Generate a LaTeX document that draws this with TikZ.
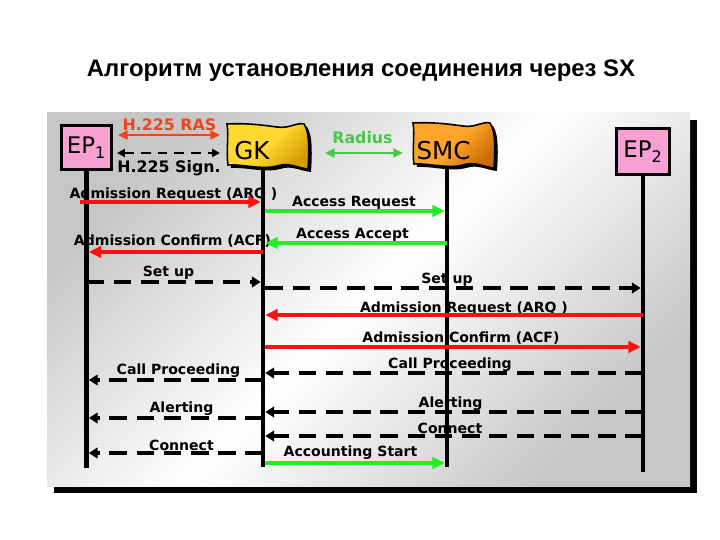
\documentclass[tikz,border=0pt]{standalone}
\usepackage{fontspec}
\setmainfont{DejaVu Sans}
\newfontfamily\titlefont{Liberation Sans}
\usepackage{tikz}
\usetikzlibrary{positioning,arrows.meta,calc}
\usepackage{xcolor}

\definecolor{rasred}{HTML}{F04420}
\definecolor{radgreen}{HTML}{48C848}
\definecolor{msggreen}{HTML}{22EE22}
\definecolor{msgred}{HTML}{FF1010}
\definecolor{eppink}{HTML}{F9A0D2}
\definecolor{gklight}{HTML}{FFD830}
\definecolor{gkdark}{HTML}{D09C00}
\definecolor{smclight}{HTML}{FFA42A}
\definecolor{smcdark}{HTML}{C86A00}

\newcommand\flagpath{(0,0) .. controls (20,-1) and (35,1) .. (50,3)
  .. controls (62,5) and (70,-2) .. (77,0)
  .. controls (83,8) and (82,30) .. (81,45)
  .. controls (70,44) and (62,38) .. (50,42)
  .. controls (35,46) and (15,40) .. (1,41)
  .. controls (-1,28) and (2,12) .. (0,0) -- cycle}

\tikzset{
  epbox/.style={draw=black,line width=1.8pt,fill=eppink,minimum width=1.0cm,
    minimum height=0.88cm,inner sep=0pt,font=\fontsize{13}{15}\selectfont},
  flagtext/.style={font=\fontsize{14}{16}\selectfont,inner sep=0pt},
  lifeline/.style={line width=2.6pt},
  lbl/.style={font=\bfseries\fontsize{8}{9}\selectfont,inner sep=0pt,anchor=base},
  hdr/.style={font=\bfseries\fontsize{9}{10}\selectfont,inner sep=0pt,anchor=base},
  solidtip/.style={-{Triangle[length=7pt,width=6.5pt]}},
  dashtip/.style={-{Triangle[length=5pt,width=6pt]}},
  redmsg/.style={draw=msgred,line width=2.4pt,solidtip,shorten >=1.3pt},
  greenmsg/.style={draw=msggreen,line width=2.4pt,solidtip,shorten >=1.3pt},
  blackmsg/.style={line width=2.4pt,dash pattern=on 10pt off 5.5pt,dashtip,shorten >=1.3pt},
  pics/flag/.style 2 args={code={
    \fill[black,shift={(3,3)}] \flagpath;
    \shade[left color=#1,right color=#2,middle color=#1,shading angle=45] \flagpath;
    \draw[line width=0.9pt] \flagpath;
  }}
}

\begin{document}
\begin{tikzpicture}[x=0.02cm,y=-0.02cm]
\useasboundingbox[fill=white] (0,0) rectangle (720,540);

% title
\node[font=\titlefont\bfseries\fontsize{13.6}{16}\selectfont,anchor=base] (title) at (361,77)
  {Алгоритм установления соединения через SX};

% panel with its shadow
\fill[black] (54,120) rectangle (697,493);
\shade[left color=gray!45,right color=gray!45,middle color=white,shading angle=45]
  (47,113) rectangle (690,486);

% participants
\node[epbox] (EP1) at (86.5,147.5) {EP\textsubscript{1}};
\node[epbox,minimum width=1.06cm,minimum height=0.92cm] (EP2) at (643,151.5) {EP\textsubscript{2}};
\pic at (227,124) {flag={gklight}{gkdark}};
\pic at (413,123) {flag={smclight}{smcdark}};
\node[flagtext] (GK) at (252,150.5) {GK};
\node[flagtext] (SMC) at (443.5,150.5) {SMC};

% lifeline ends
\coordinate (t2) at (263,169);
\coordinate (t3) at (447,168);
\coordinate (b1) at (86.5,468);
\coordinate (b2) at (263,467);
\coordinate (b3) at (447,467);
\coordinate (b4) at (643,472);

% legend
\coordinate (ras1) at (118,135);
\coordinate (ras2) at (220,135);
\coordinate (sig1) at (117,153);
\coordinate (sig2) at (220,153);
\coordinate (rad1) at (325,153);
\coordinate (rad2) at (403,153);
\node[hdr,text=rasred] (rastxt) at (169.5,131) {H.225 RAS};
\node[hdr] (sigtxt) at (169,173) {H.225 Sign.};
\node[hdr,text=radgreen] (radtxt) at (362.5,144) {Radius};
\draw[rasred,line width=1.6pt,{Triangle[length=5.5pt,width=5pt]}-{Triangle[length=5.5pt,width=5pt]}] (ras1) -- (ras2);
\draw[line width=1.7pt,dash pattern=on 5.5pt off 4pt,{Triangle[length=4.5pt,width=4.5pt]}-{Triangle[length=4.5pt,width=4.5pt]}] (sig1) -- (sig2);
\draw[radgreen,line width=1.6pt,{Triangle[length=5.5pt,width=5pt]}-{Triangle[length=5.5pt,width=5pt]}] (rad1) -- (rad2);

% message labels
\node[lbl] (m1) at (173.5,199) {Admission Request (ARQ )};
\node[lbl] (m2) at (354,207) {Access Request};
\node[lbl] (m3) at (352.5,239) {Access Accept};
\node[lbl] (m4) at (172.5,246) {Admission Confirm (ACF)};
\node[lbl] (m5) at (168.5,277) {Set up};
\node[lbl] (m6) at (447,284) {Set up};
\node[lbl] (m7) at (464,313) {Admission Request (ARQ )};
\node[lbl] (m8) at (461,343) {Admission Confirm (ACF)};
\node[lbl] (m9) at (450,369) {Call Proceeding};
\node[lbl] (m10) at (178.5,375) {Call Proceeding};
\node[lbl] (m11) at (450.5,407) {Alerting};
\node[lbl] (m12) at (181.5,413) {Alerting};
\node[lbl] (m13) at (450,434) {Connect};
\node[lbl] (m14) at (181.5,450) {Connect};
\node[lbl] (m15) at (350.5,457) {Accounting Start};

% lifelines
\draw[lifeline] (EP1.south) -- (b1);
\draw[lifeline] (t2) -- (b2);
\draw[lifeline] (t3) -- (b3);
\draw[lifeline] (EP2.south) -- (b4);

% messages
\draw[redmsg,shorten <=-3.5pt] (b1 |- 0,202) -- (b2 |- 0,202);
\draw[greenmsg,shorten <=1.3pt] (b2 |- 0,211) -- (b3 |- 0,211);
\draw[greenmsg] (b3 |- 0,243) -- (b2 |- 0,243);
\draw[redmsg] (b2 |- 0,252) -- (b1 |- 0,252);
\draw[blackmsg] (b1 |- 0,282) -- (b2 |- 0,282);
\draw[blackmsg,shorten <=1.3pt] (b2 |- 0,288) -- (b4 |- 0,288);
\draw[redmsg] (b4 |- 0,315) -- (b2 |- 0,315);
\draw[redmsg,shorten <=1.3pt] (b2 |- 0,347) -- (b4 |- 0,347);
\draw[blackmsg] (b4 |- 0,373) -- (b2 |- 0,373);
\draw[blackmsg] (b2 |- 0,380) -- (b1 |- 0,380);
\draw[blackmsg] (b4 |- 0,412) -- (b2 |- 0,412);
\draw[blackmsg] (b2 |- 0,418) -- (b1 |- 0,418);
\draw[blackmsg] (b4 |- 0,436) -- (b2 |- 0,436);
\draw[blackmsg] (b2 |- 0,453) -- (b1 |- 0,453);
\draw[greenmsg,shorten <=1.3pt] (b2 |- 0,463) -- (b3 |- 0,463);
\end{tikzpicture}
\end{document}
